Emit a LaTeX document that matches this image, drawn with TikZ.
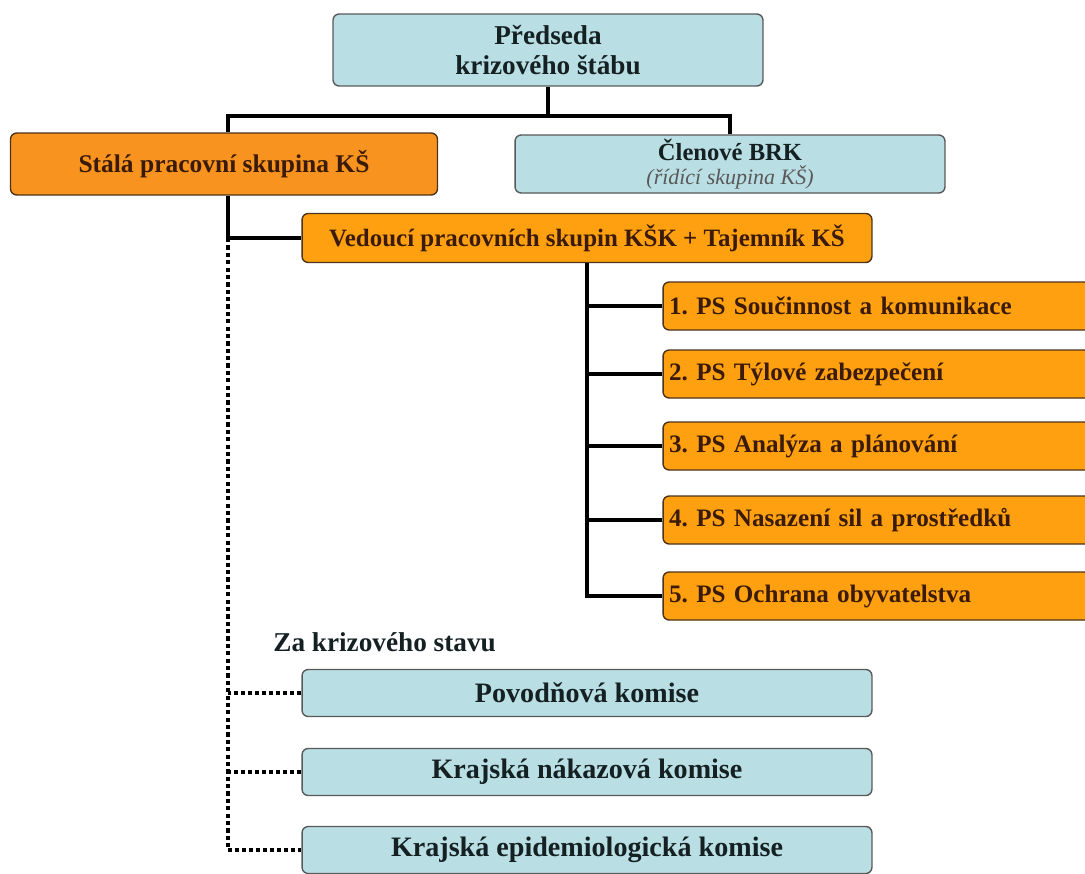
\documentclass[tikz,border=0pt]{standalone}
\usepackage{fontspec}
\setmainfont{Liberation Serif}
\definecolor{lb}{HTML}{B9DEE3}
\definecolor{og}{HTML}{FFA010}
\definecolor{og2}{HTML}{F7931E}
\definecolor{tbrown}{HTML}{3A1A08}
\definecolor{tdark}{HTML}{142022}
\begin{document}
\begin{tikzpicture}[x=0.02cm,y=-0.02cm,
  box/.style={line width=0.8pt, rounded corners=3.5pt, align=center, inner sep=0pt, font=\bfseries\frenchspacing},
  blue/.style={box, draw=black!65, fill=lb, text=tdark},
  org/.style={box, draw=black!60!brown, fill=og, text=tbrown},
  psbox/.style={org, minimum width=8.56cm, minimum height=0.96cm, text width=8.32cm, align=left, font=\bfseries\frenchspacing\fontsize{14.3}{16}\selectfont},
  kom/.style={blue, minimum width=11.4cm, minimum height=0.94cm, font=\bfseries\fontsize{16}{18}\selectfont},
  conn/.style={line width=2.2pt},
  dots/.style={line width=2.2pt, dash pattern=on 2.2pt off 1.8pt},
  vdots/.style={line width=2.8pt, dash pattern=on 2.4pt off 1.8pt}]
\useasboundingbox (0,0) rectangle (1085,873);
\clip (0,0) rectangle (1085,873);
\node[blue, minimum width=8.6cm, minimum height=1.44cm, font=\bfseries\fontsize{15.5}{17}\selectfont] (pred) at (548,50) {Předseda\\krizového štábu};
\node[org, fill=og2, minimum width=8.54cm, minimum height=1.24cm, font=\bfseries\fontsize{14.5}{16}\selectfont] (stala) at (224,164) {Stálá pracovní skupina KŠ};
\node[blue, minimum width=8.6cm, minimum height=1.16cm, font=\bfseries\fontsize{14}{15}\selectfont] (clen) at (730,164) {Členové BRK\\[-1pt]{\mdseries\itshape\fontsize{12.5}{14}\selectfont\color{black!65}(řídící skupina KŠ)}};
\node[org, minimum width=11.4cm, minimum height=0.98cm, font=\bfseries\fontsize{14.2}{16}\selectfont] (ved) at (587,238) {Vedoucí pracovních skupin KŠK + Tajemník KŠ};
\node[psbox] (ps1) at (877,306) {1. PS Součinnost a komunikace};
\node[psbox] (ps2) at (877,374) {2. PS Týlové zabezpečení};
\node[psbox] (ps3) at (877,446) {3. PS Analýza a plánování};
\node[psbox] (ps4) at (877,520) {4. PS Nasazení sil a prostředků};
\node[psbox] (ps5) at (877,596) {5. PS Ochrana obyvatelstva};
\node[anchor=west, text=tdark, font=\bfseries\fontsize{15.5}{17}\selectfont, inner sep=0pt] (za) at (273,642) {Za krizového stavu};
\node[kom] (k1) at (587,693) {Povodňová komise};
\node[kom] (k2) at (587,772) {Krajská nákazová komise};
\node[kom] (k3) at (587,850) {Krajská epidemiologická komise};
\coordinate (j1) at (548,116);
\coordinate (d0) at (228,238);
\coordinate (d1) at (228,850);
\draw[conn] (pred.south) -- (j1);
\draw[conn] (stala.north -| d0) |- (j1) -| (clen.north);
\draw[conn] (stala.south -| d0) |- (ved.west);
\draw[conn] (ved.south) |- (ps5.west);
\foreach \p in {ps1,ps2,ps3,ps4} \draw[conn] (\p.west) -- (\p.west -| ved.south);
\draw[vdots] (d0) -- (d1);
\draw[dots] (d1) -- (k3.west);
\draw[dots] (k1.west) -- (k1.west -| d0);
\draw[dots] (k2.west) -- (k2.west -| d0);
\end{tikzpicture}
\end{document}
